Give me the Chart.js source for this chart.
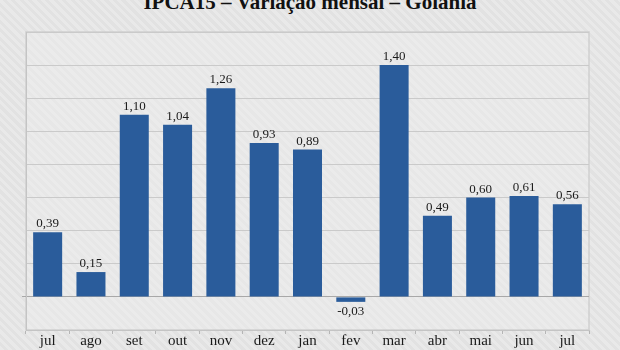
<!DOCTYPE html>
<html>
<head>
<meta charset="utf-8">
<script src="https://cdn.jsdelivr.net/npm/chart.js@4/dist/chart.umd.min.js"></script>
<style>
html,body{margin:0;padding:0;}
body{width:620px;height:350px;overflow:hidden;position:relative;
background:repeating-linear-gradient(45deg,#e9e9e9 0px,#e9e9e9 3px,#e2e2e2 3px,#e2e2e2 6px);}
#title{position:absolute;left:0;width:620px;top:-8px;text-align:center;font:bold 21px "Liberation Serif","Times New Roman",serif;line-height:21px;color:#111;white-space:nowrap;}
#wrap{position:absolute;left:0;top:0;width:620px;height:350px;}
</style>
</head>
<body>
<div id="title">IPCA15 – Variação mensal – Goiânia</div>
<div id="wrap"><canvas id="c" width="620" height="350"></canvas></div>
<script>
const categories = ["jul","ago","set","out","nov","dez","jan","fev","mar","abr","mai","jun","jul"];
const values = [0.39,0.15,1.10,1.04,1.26,0.93,0.89,-0.03,1.40,0.49,0.60,0.61,0.56];
const yMin = -0.2, yMax = 1.6, yStep = 0.2;

const fmt = v => v.toFixed(2).replace('.', ',');

const labelPlugin = {
  id: 'labels',
  afterDatasetsDraw(chart) {
    const ctx = chart.ctx;
    const meta = chart.getDatasetMeta(0);
    ctx.save();
    ctx.font = '13px "Liberation Serif","Times New Roman",serif';
    ctx.fillStyle = '#1a1a1a';
    ctx.textAlign = 'center';
    ctx.textBaseline = 'alphabetic';
    meta.data.forEach((bar, i) => {
      const v = values[i];
      if (v >= 0) ctx.fillText(fmt(v), bar.x, bar.y - 5);
      else ctx.fillText(fmt(v), bar.x, bar.y + 13);
    });
    ctx.restore();
  }
};
const framePlugin = {
  id: 'frame',
  beforeDraw(chart) {
    const {ctx, chartArea: a} = chart;
    ctx.save();
    ctx.fillStyle = 'rgba(240,240,240,0.35)';
    ctx.fillRect(a.left, a.top, a.right - a.left, a.bottom - a.top);
    ctx.strokeStyle = '#cfcfcf';
    ctx.lineWidth = 1.5;
    ctx.strokeRect(a.left, a.top, a.right - a.left, a.bottom - a.top);
    ctx.restore();
  }
};

new Chart(document.getElementById('c'), {
  type: 'bar',
  data: {
    labels: categories,
    datasets: [{
      data: values,
      backgroundColor: '#2a5c9b',
      borderWidth: 0,
      barPercentage: 0.67,
      categoryPercentage: 1.0
    }]
  },
  options: {
    responsive: false,
    animation: false,
    devicePixelRatio: 1,
    layout: { padding: { left: 22, right: 31, top: 32, bottom: 0 } },
    plugins: { legend: { display: false }, tooltip: { enabled: false }, title: { display: false } },
    scales: {
      x: {
        afterFit(s) { s.height = 20; },
        grid: { offset: true, drawOnChartArea: false, drawTicks: true, tickLength: 4, tickColor: '#b5b5b5' },
        border: { display: true, color: '#c4c4c4' },
        ticks: { color: '#1a1a1a', padding: -2, font: { family: '"Liberation Serif","Times New Roman",serif', size: 15 } }
      },
      y: {
        min: yMin, max: yMax,
        afterFit(s) { s.width = 4; },
        ticks: { display: false, stepSize: yStep },
        grid: {
          color: c => (Math.abs(c.tick.value) < 1e-9 ? '#a8a8a8' : '#cacaca'),
          tickColor: c => (Math.abs(c.tick.value) < 1e-9 ? '#a8a8a8' : 'rgba(0,0,0,0)'),
          tickLength: 4,
          lineWidth: 1
        },
        border: { display: true, color: '#c4c4c4' }
      }
    }
  },
  plugins: [framePlugin, labelPlugin]
});
</script>
</body>
</html>
